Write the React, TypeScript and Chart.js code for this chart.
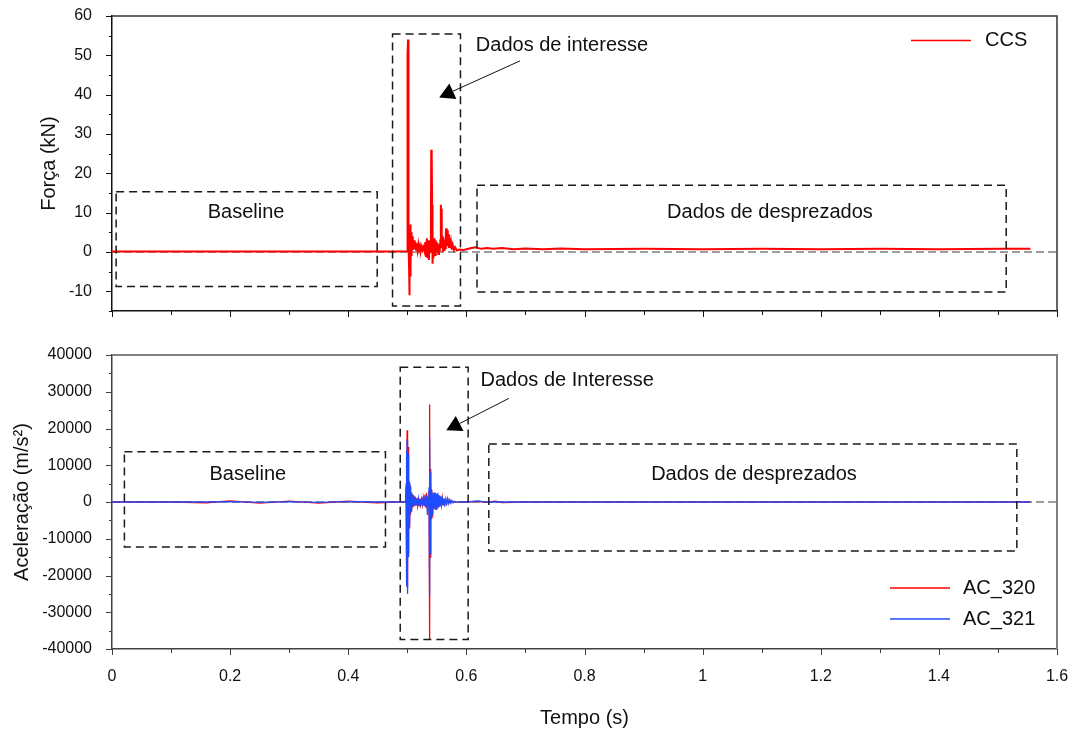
import React, { useEffect, useRef } from 'react';
import { Chart, registerables } from 'chart.js';

Chart.register(...registerables);

const FONT = "'Liberation Sans', Arial, Helvetica, sans-serif";
Chart.defaults.font.family = FONT;
Chart.defaults.color = '#111111';

// ---------- DATA ----------
const xMin = 0;
const xMax = 1.6;
const xStep = 0.1;

const forceMin = -15;
const forceMax = 60;
const forceStep = 5;
const forceLabelStep = 10;

const accMin = -40000;
const accMax = 40000;
const accStep = 5000;
const accLabelStep = 10000;

// CCS force (kN) vs time (s)
const ccsTime = [
  0, 0.08, 0.16, 0.24, 0.32, 0.40, 0.48, 0.4995, 0.5000, 0.5004,
  0.5008, 0.5012, 0.5016, 0.5020, 0.5025, 0.5030, 0.5035, 0.5040, 0.5046, 0.5052,
  0.5058, 0.5065, 0.5072, 0.5080, 0.5088, 0.5096, 0.5105, 0.5115, 0.5125, 0.5136,
  0.5148, 0.5160, 0.5173, 0.5186, 0.5200, 0.5215, 0.5230, 0.5245, 0.5260, 0.5275,
  0.5290, 0.5305, 0.5318, 0.5330, 0.5342, 0.5354, 0.5366, 0.5378, 0.5390, 0.5400,
  0.5405, 0.5410, 0.5415, 0.5420, 0.5425, 0.5430, 0.5437, 0.5444, 0.5452, 0.5460,
  0.5470, 0.5480, 0.5490, 0.5500, 0.5512, 0.5524, 0.5536, 0.5548, 0.5560, 0.5568,
  0.5574, 0.5580, 0.5586, 0.5594, 0.5602, 0.5612, 0.5622, 0.5632, 0.5642, 0.5652,
  0.5660, 0.5668, 0.5676, 0.5685, 0.5695, 0.5705, 0.5716, 0.5728, 0.5740, 0.5755,
  0.5770, 0.5790, 0.5810, 0.5840, 0.5880, 0.5950, 0.6050, 0.6150, 0.6250, 0.6350,
  0.6450, 0.6600, 0.6800, 0.7000, 0.7300, 0.7600, 0.8000, 0.9000, 1.0000, 1.1000,
  1.2000, 1.3000, 1.4000, 1.5000, 1.5550,
];
const ccsForce = [
  0.1, 0.1, 0.15, 0.1, 0.15, 0.1, 0.1, 0.2, 49, 44,
  50, 54, 30, 6, 2, -4, -11, 5, -6, 7,
  -3, 5, -1, 4, 0.5, 3.5, 0.5, 3, 0.8, 2.5,
  0.6, 2.2, 0.5, 2, 0.6, 1.6, 0.4, 1.4, 0.5, 1.2,
  0.3, 2.5, -1, 3.5, -1.5, 3, -2, 2.5, 0, 8,
  26, 18, 25, 12, -2, -3, 3, -1.5, 3.5, 0,
  3, -1, 2.5, 0.2, 2.2, -0.5, 2, 0, 3, 12,
  6, 11, 1, 4, 0, 3.5, 0.5, 3, 1, 5,
  6, 2, 5.5, 1.5, 4.5, 1, 3.5, 1, 2.5, 0.6,
  1.8, 0.5, 1.2, 0.4, 0.6, 0.5, 0.9, 1.2, 0.8, 1.0,
  0.8, 1.0, 0.7, 0.9, 0.7, 0.9, 0.7, 0.8, 0.7, 0.8,
  0.7, 0.8, 0.7, 0.8, 0.8,
];

// Accelerations (m/s²) vs time (s)
const acTime = [
  0, 0.05, 0.10, 0.16, 0.20, 0.25, 0.30, 0.35, 0.40, 0.45, 0.48, 0.497,
  0.4980, 0.4984, 0.4988, 0.4992, 0.4996, 0.5000, 0.5004, 0.5008, 0.5012, 0.5016,
  0.5020, 0.5024, 0.5028, 0.5032, 0.5037, 0.5042, 0.5047, 0.5052, 0.5058, 0.5064,
  0.5070, 0.5077, 0.5084, 0.5092, 0.5100, 0.5110, 0.5120, 0.5130, 0.5140, 0.5150,
  0.5162, 0.5175, 0.5188, 0.5200, 0.5214, 0.5228, 0.5242, 0.5256, 0.5270, 0.5284,
  0.5298, 0.5312, 0.5326, 0.5340, 0.5352, 0.5362,
  0.5368, 0.5372, 0.5376, 0.5380, 0.5384, 0.5388, 0.5392, 0.5396, 0.5401, 0.5406,
  0.5412, 0.5418, 0.5425, 0.5432, 0.5440, 0.5448, 0.5457, 0.5466, 0.5476, 0.5486,
  0.5496, 0.5506, 0.5517, 0.5528, 0.5540, 0.5552, 0.5565, 0.5578, 0.5592, 0.5606,
  0.5620, 0.5636, 0.5652, 0.5668, 0.5684, 0.5700, 0.5718, 0.5736, 0.5755, 0.5775,
  0.5800, 0.5830, 0.5870,
  0.60, 0.62, 0.63, 0.65, 0.66, 0.70, 0.80, 1.00, 1.20, 1.40, 1.555,
];
const ac320 = [
  0, 0, 0, -200, 300, -300, 250, -300, 200, -200, 0, 0,
  4000, -9000, 12000, -16000, 19500, -23500, 18000, -20000, 15000, -14000,
  9000, -10000, 6000, -7000, 5000, -5500, 4000, -3500, 3000, -2500,
  2500, -2000, 2000, -1500, 1800, -1200, 1500, -1000, 1200, -800,
  1000, -900, 1200, -1000, 900, -800, 700, -700, 1500, -1000,
  2000, -1500, 2500, -2000, 1500, -1000,
  3000, -10000, 26500, -37500, 20000, -15000, 9000, -8000, 5500, -4500,
  3500, -3000, 2500, -3500, 2000, -2000, 2500, -1800, 2500, -2000,
  2000, -1500, 1800, -1200, 1500, -1000, 1200, -800, 1200, -700,
  800, -500, 600, -400, 700, -300, 500, -200, 300, -150,
  150, -100, 0,
  0, 150, -100, 200, -150, 0, 0, 0, 0, 0, 0,
];
const ac321 = [
  0, 0, 0, 0, 100, -100, 100, -100, 100, 0, 0, 0,
  5000, -10000, 14000, -23000, 17000, -25000, 16500, -18000, 13000, -15000,
  10000, -8000, 7000, -6000, 5500, -4500, 4500, -3000, 3500, -2000,
  2500, -1500, 2000, -1200, 1500, -1000, 1200, -900, 1000, -700,
  800, -700, 900, -800, 800, -600, 600, -500, 1200, -800,
  1500, -1200, 1800, -3500, 1200, -800,
  4000, -9000, 17500, -25500, 15000, -14000, 8000, -6500, 5000, -4000,
  3000, -2500, 2500, -3500, 2000, -2000, 2500, -1500, 2500, -2000,
  2200, -1200, 2500, -1500, 1800, -1300, 1500, -1000, 1500, -800,
  1000, -600, 800, -500, 900, -400, 600, -300, 400, -200,
  200, -100, 0,
  0, 300, 0, 0, 0, 0, 0, 0, 0, 0, 0,
];

// ---------- ANNOTATIONS (data coordinates) ----------
const topAnnotations = {
  boxes: [
    { x0: 0.007, x1: 0.449, y0: -8.8, y1: 15.3 },
    { x0: 0.475, x1: 0.590, y0: -13.7, y1: 55.4 },
    { x0: 0.618, x1: 1.514, y0: -10.2, y1: 17.0 },
  ],
  texts: [
    { x: 0.227, y: 10.0, text: 'Baseline', align: 'center' },
    { x: 1.114, y: 10.0, text: 'Dados de desprezados', align: 'center' },
    { x: 0.616, y: 52.5, text: 'Dados de interesse', align: 'left' },
  ],
  arrows: [{ x0: 0.691, y0: 48.6, x1: 0.554, y1: 39.3 }],
};

const bottomAnnotations = {
  boxes: [
    { x0: 0.021, x1: 0.463, y0: -12250, y1: 13700 },
    { x0: 0.488, x1: 0.603, y0: -37440, y1: 36650 },
    { x0: 0.638, x1: 1.532, y0: -13330, y1: 15780 },
  ],
  texts: [
    { x: 0.230, y: 7540, text: 'Baseline', align: 'center' },
    { x: 1.087, y: 7540, text: 'Dados de desprezados', align: 'center' },
    { x: 0.624, y: 33100, text: 'Dados de Interesse', align: 'left' },
  ],
  arrows: [{ x0: 0.672, y0: 28200, x1: 0.566, y1: 19500 }],
};

// ---------- PLUGINS ----------
const axisDecor = {
  id: 'axisDecor',
  afterDraw(chart: any, _args: any, opts: any) {
    const { ctx, chartArea: a, scales } = chart;
    const xs = scales.x;
    const ys = scales.y;
    ctx.save();
    ctx.strokeStyle = opts.frameColor;
    ctx.lineWidth = opts.frameWidth;
    ctx.beginPath();
    ctx.moveTo(a.left, a.top);
    ctx.lineTo(a.right, a.top);
    ctx.lineTo(a.right, a.bottom);
    ctx.stroke();
    ctx.strokeStyle = opts.axisColor;
    ctx.lineWidth = 1;
    ctx.beginPath();
    xs.ticks.forEach((t: any) => {
      const px = Math.round(xs.getPixelForValue(t.value)) + 0.5;
      const major = Math.round(t.value * 10) % 2 === 0;
      const len = major ? 6 : 4;
      ctx.moveTo(px, a.bottom);
      ctx.lineTo(px, a.bottom + len);
    });
    ys.ticks.forEach((t: any) => {
      const py = Math.round(ys.getPixelForValue(t.value)) + 0.5;
      const major = Math.round(t.value / opts.yMajor) * opts.yMajor === t.value;
      const len = major ? 6 : 3;
      ctx.moveTo(a.left - len, py);
      ctx.lineTo(a.left, py);
    });
    ctx.stroke();
    ctx.restore();
  },
};

const zeroLine = {
  id: 'zeroLine',
  beforeDatasetsDraw(chart: any) {
    const { ctx, chartArea: a, scales } = chart;
    const py = scales.y.getPixelForValue(0);
    ctx.save();
    ctx.strokeStyle = '#7f7f7f';
    ctx.lineWidth = 1.5;
    ctx.setLineDash([8, 4]);
    ctx.beginPath();
    ctx.moveTo(a.left, py);
    ctx.lineTo(a.right, py);
    ctx.stroke();
    ctx.restore();
  },
};

const annot = {
  id: 'annot',
  afterDraw(chart: any, _args: any, opts: any) {
    const { ctx, scales } = chart;
    const X = (v: number) => scales.x.getPixelForValue(v);
    const Y = (v: number) => scales.y.getPixelForValue(v);
    ctx.save();
    ctx.strokeStyle = '#1a1a1a';
    ctx.lineWidth = 1.5;
    ctx.setLineDash([8, 5]);
    opts.boxes.forEach((b: any) => {
      const l = X(b.x0), r = X(b.x1), t = Y(b.y1), bt = Y(b.y0);
      ctx.strokeRect(l, t, r - l, bt - t);
    });
    ctx.setLineDash([]);
    ctx.fillStyle = '#111111';
    ctx.font = `20px ${FONT}`;
    ctx.textBaseline = 'middle';
    opts.texts.forEach((tx: any) => {
      ctx.textAlign = tx.align;
      ctx.fillText(tx.text, X(tx.x), Y(tx.y));
    });
    opts.arrows.forEach((ar: any) => {
      const x0 = X(ar.x0), y0 = Y(ar.y0), x1 = X(ar.x1), y1 = Y(ar.y1);
      const dx = x1 - x0, dy = y1 - y0;
      const len = Math.hypot(dx, dy);
      const ux = dx / len, uy = dy / len;
      const headLen = 15, half = 8.5;
      const bx = x1 - ux * headLen, by = y1 - uy * headLen;
      ctx.strokeStyle = '#111111';
      ctx.lineWidth = 1;
      ctx.beginPath();
      ctx.moveTo(x0, y0);
      ctx.lineTo(bx, by);
      ctx.stroke();
      ctx.fillStyle = '#000000';
      ctx.beginPath();
      ctx.moveTo(x1, y1);
      ctx.lineTo(bx - uy * half, by + ux * half);
      ctx.lineTo(bx + uy * half, by - ux * half);
      ctx.closePath();
      ctx.fill();
    });
    ctx.restore();
  },
};

const miniLegend = {
  id: 'miniLegend',
  afterDraw(chart: any, _args: any, opts: any) {
    const { ctx, chartArea: a } = chart;
    ctx.save();
    ctx.font = `20px ${FONT}`;
    ctx.textBaseline = 'middle';
    ctx.textAlign = 'left';
    chart.data.datasets.forEach((ds: any, i: number) => {
      const y = opts.fromBottom ? a.bottom - opts.rows[i] : a.top + opts.rows[i];
      ctx.strokeStyle = ds.borderColor;
      ctx.lineWidth = 1.5;
      ctx.beginPath();
      ctx.moveTo(a.right - opts.lineStart, y);
      ctx.lineTo(a.right - opts.lineEnd, y);
      ctx.stroke();
      ctx.fillStyle = '#111111';
      ctx.fillText(ds.label, a.right - opts.textStart, y);
    });
    ctx.restore();
  },
};

const xTickCallback = (v: any) => {
  const k = Math.round(Number(v) * 10);
  return k % 2 === 0 ? String(k / 10) : '';
};

const noPad = (s: any) => {
  s.paddingTop = 0;
  s.paddingBottom = 0;
  s.paddingLeft = 0;
  s.paddingRight = 0;
};

function topConfig(): any {
  return {
    type: 'line',
    data: {
      datasets: [
        {
          label: 'CCS',
          data: ccsTime.map((t, i) => ({ x: t, y: ccsForce[i] })),
          borderColor: '#ff0000',
          borderWidth: 2,
          pointRadius: 0,
          fill: false,
          tension: 0,
        },
      ],
    },
    plugins: [zeroLine, axisDecor, annot, miniLegend],
    options: {
      animation: false,
      responsive: false,
      devicePixelRatio: 1,
      events: [],
      layout: { autoPadding: false, padding: { top: 16, right: 13, left: 0, bottom: 0 } },
      plugins: {
        legend: { display: false },
        tooltip: { enabled: false },
        axisDecor: { frameColor: '#333333', frameWidth: 1.5, axisColor: '#111111', yMajor: forceLabelStep },
        annot: topAnnotations,
        miniLegend: { fromBottom: false, rows: [24.5], lineStart: 146, lineEnd: 86, textStart: 72 },
      },
      scales: {
        x: {
          type: 'linear',
          min: xMin,
          max: xMax,
          ticks: { display: false, stepSize: xStep, autoSkip: false },
          grid: { display: false, drawTicks: false },
          border: { display: true, color: '#111111', width: 1.5 },
          afterFit: (s: any) => { s.height = 19; noPad(s); },
        },
        y: {
          type: 'linear',
          min: forceMin,
          max: forceMax,
          ticks: {
            stepSize: forceStep,
            autoSkip: false,
            padding: 20,
            color: '#111111',
            font: { size: 16, family: FONT },
            callback: (v: any) => (Number(v) % forceLabelStep === 0 ? String(v) : ''),
          },
          grid: { display: false, drawTicks: false },
          border: { display: true, color: '#111111', width: 1.5 },
          title: {
            display: true,
            text: 'Força (kN)',
            color: '#111111',
            font: { size: 20, family: FONT },
            padding: { top: 37, bottom: 0 },
          },
          afterFit: (s: any) => { s.width = 112; noPad(s); },
        },
      },
    },
  };
}

function bottomConfig(): any {
  return {
    type: 'line',
    data: {
      datasets: [
        {
          label: 'AC_320',
          data: acTime.map((t, i) => ({ x: t, y: ac320[i] })),
          borderColor: '#ff0000',
          borderWidth: 1.3,
          pointRadius: 0,
          fill: false,
          tension: 0,
          order: 2,
        },
        {
          label: 'AC_321',
          data: acTime.map((t, i) => ({ x: t, y: ac321[i] })),
          borderColor: '#1f4cff',
          borderWidth: 1.3,
          pointRadius: 0,
          fill: false,
          tension: 0,
          order: 1,
        },
      ],
    },
    plugins: [zeroLine, axisDecor, annot, miniLegend],
    options: {
      animation: false,
      responsive: false,
      devicePixelRatio: 1,
      events: [],
      layout: { autoPadding: false, padding: { top: 25, right: 13, left: 0, bottom: 0 } },
      plugins: {
        legend: { display: false },
        tooltip: { enabled: false },
        axisDecor: { frameColor: '#808080', frameWidth: 2, axisColor: '#404040', yMajor: accLabelStep },
        annot: bottomAnnotations,
        miniLegend: { fromBottom: true, rows: [61, 30], lineStart: 167, lineEnd: 107, textStart: 94 },
      },
      scales: {
        x: {
          type: 'linear',
          min: xMin,
          max: xMax,
          ticks: {
            stepSize: xStep,
            autoSkip: false,
            maxRotation: 0,
            padding: 18,
            color: '#111111',
            font: { size: 16, family: FONT },
            callback: xTickCallback,
          },
          grid: { display: false, drawTicks: false },
          border: { display: true, color: '#404040', width: 1.5 },
          title: {
            display: true,
            text: 'Tempo (s)',
            color: '#111111',
            font: { size: 20, family: FONT },
            padding: { top: 0, bottom: 3 },
          },
          afterFit: (s: any) => { s.height = 84; noPad(s); },
        },
        y: {
          type: 'linear',
          min: accMin,
          max: accMax,
          ticks: {
            stepSize: accStep,
            autoSkip: false,
            padding: 20,
            color: '#111111',
            font: { size: 16, family: FONT },
            callback: (v: any) => (Number(v) % accLabelStep === 0 ? String(v) : ''),
          },
          grid: { display: false, drawTicks: false },
          border: { display: true, color: '#404040', width: 1.5 },
          title: {
            display: true,
            text: 'Aceleração (m/s²)',
            color: '#111111',
            font: { size: 20, family: FONT },
            padding: { top: 10, bottom: 0 },
          },
          afterFit: (s: any) => { s.width = 112; noPad(s); },
        },
      },
    },
  };
}

export default function App() {
  const topRef = useRef<HTMLCanvasElement>(null);
  const botRef = useRef<HTMLCanvasElement>(null);

  useEffect(() => {
    const c1 = new Chart(topRef.current as HTMLCanvasElement, topConfig());
    const c2 = new Chart(botRef.current as HTMLCanvasElement, bottomConfig());
    return () => {
      c1.destroy();
      c2.destroy();
    };
  }, []);

  return (
    <div style={{ position: 'fixed', left: 0, top: 0, width: 1070, height: 733, background: '#ffffff' }}>
      <canvas
        ref={topRef}
        width={1070}
        height={330}
        style={{ position: 'absolute', left: 0, top: 0, width: 1070, height: 330 }}
      />
      <canvas
        ref={botRef}
        width={1070}
        height={403}
        style={{ position: 'absolute', left: 0, top: 330, width: 1070, height: 403 }}
      />
    </div>
  );
}
